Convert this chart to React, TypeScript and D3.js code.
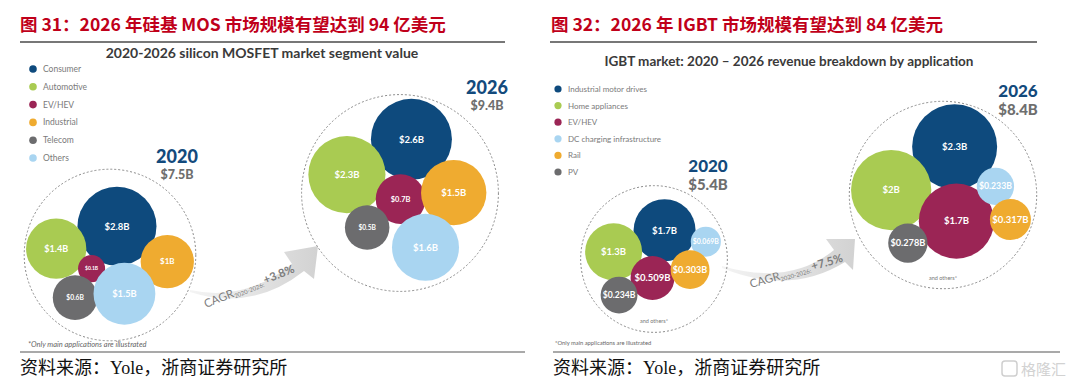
import { useEffect, useRef } from 'react'
import * as d3 from 'd3'

// ---- data ----
const years = ['2020', '2026']

const mosfetSegments = ['Consumer', 'Automotive', 'EV/HEV', 'Industrial', 'Telecom', 'Others']
const mosfet2020 = [2.8, 1.4, 0.1, 1, 0.6, 1.5]
const mosfet2026 = [2.6, 2.3, 0.7, 1.5, 0.5, 1.6]
const mosfetTotals = [7.5, 9.4]
const mosfetCagr = '+3.8%'

const igbtSegments = ['Industrial motor drives', 'Home appliances', 'EV/HEV', 'DC charging infrastructure', 'Rail', 'PV']
const igbt2020 = [1.7, 1.3, 0.509, 0.069, 0.303, 0.234]
const igbt2026 = [2.3, 2, 1.7, 0.233, 0.317, 0.278]
const igbtTotals = [5.4, 8.4]
const igbtCagr = '+7.5%'

// ---- styles ----
const BLUE = '#0e4a7d'
const GREEN = '#a9cb52'
const CRIMSON = '#9b2555'
const ORANGE = '#efab30'
const GREY = '#6c6c6e'
const SKY = '#a9d5f1'
const mosfetColors = [BLUE, GREEN, CRIMSON, ORANGE, GREY, SKY]
const igbtColors = [BLUE, GREEN, CRIMSON, SKY, ORANGE, GREY]

const fmt = (v: number) => `$${v}B`

// seed angle (deg) / distance (fraction of ring) for the force layout
const seedsMosfet2020 = [[-74, 0.5], [185, 0.6], [135, 0.2], [10, 0.63], [129, 0.68], [67, 0.58]]
const seedsMosfet2026 = [[-80, 0.57], [192, 0.53], [63, 0.16], [-3, 0.64], [135, 0.71], [71, 0.68]]
const seedsIgbt2020 = [[-82, 0.41], [192, 0.56], [80, 0.41], [-14, 0.62], [32, 0.65], [141, 0.7]]
const seedsIgbt2026 = [[-75, 0.52], [190, 0.54], [67, 0.29], [-10, 0.68], [22, 0.77], [124, 0.72]]

interface Panel {
  values: number[]
  colors: string[]
  seeds: number[][]
  cx: number
  cy: number
  ring: number
  range: [number, number]
  year: string
  total: number
  yearX: number
  yearY: number
  yearSize: number
  totalSize: number
  fitLabels: boolean
  others: boolean
  pad: number
  lift: number
}

interface Node {
  i: number
  v: number
  r: number
  x: number
  y: number
}

const panels: Panel[] = [
  { values: mosfet2020, colors: mosfetColors, seeds: seedsMosfet2020, cx: 110, cy: 255, ring: 81, range: [7.5, 39.5], year: years[0], total: mosfetTotals[0], yearX: 177, yearY: 163, yearSize: 18, totalSize: 12.5, fitLabels: false, others: false, pad: 1.5, lift: 0 },
  { values: mosfet2026, colors: mosfetColors, seeds: seedsMosfet2026, cx: 400, cy: 193, ring: 99, range: [8, 40.5], year: years[1], total: mosfetTotals[1], yearX: 487, yearY: 94, yearSize: 18, totalSize: 12.5, fitLabels: false, others: false, pad: 4, lift: 1 },
  { values: igbt2020, colors: igbtColors, seeds: seedsIgbt2020, cx: 654, cy: 259, ring: 71, range: [11, 31], year: years[0], total: igbtTotals[0], yearX: 708, yearY: 172, yearSize: 17, totalSize: 15, fitLabels: true, others: true, pad: 4, lift: 1 },
  { values: igbt2026, colors: igbtColors, seeds: seedsIgbt2026, cx: 943, cy: 195, ring: 96, range: [7.5, 42.5], year: years[1], total: igbtTotals[1], yearX: 1018, yearY: 97, yearSize: 17, totalSize: 15, fitLabels: true, others: true, pad: 1.5, lift: 0 },
]

function layoutPanel(p: Panel) {
  const rScale = d3.scaleSqrt().domain([0, d3.max(p.values) as number]).range(p.range)
  const nodes: Node[] = p.values.map((v, i) => {
    const [a, f] = p.seeds[i]
    const t = (a * Math.PI) / 180
    return { i, v, r: rScale(v), x: p.cx + Math.cos(t) * f * p.ring, y: p.cy + Math.sin(t) * f * p.ring }
  })
  // bubbles in the source overlap a little, so collide on a slightly smaller radius
  const sim = d3
    .forceSimulation(nodes as any)
    .force('x', d3.forceX(p.cx).strength(0.1))
    .force('y', d3.forceY(p.cy).strength(0.1))
    .force('collide', d3.forceCollide((d: any) => d.r * 0.93).strength(1).iterations(4))
    .stop()
  for (let k = 0; k < 300; k++) sim.tick()
  const enc = d3.packEnclose(nodes as any) as any
  const R = enc.r + p.pad
  const dx = p.cx - enc.x
  const dy = p.cy - enc.y - p.lift
  nodes.forEach((n) => {
    n.x += dx
    n.y += dy
  })
  return { nodes, R }
}

const LATO = "Lato, 'Open Sans', sans-serif"
const CJK = "'Noto Sans CJK SC', sans-serif"

export default function App() {
  const svgRef = useRef<SVGSVGElement>(null)

  useEffect(() => {
    if (!svgRef.current) return
    const svg = d3.select(svgRef.current)
    svg.selectAll('*').remove()

    const defs = svg.append('defs')
    const grad = defs.append('linearGradient').attr('id', 'swoosh').attr('x1', '0%').attr('x2', '100%')
    grad.append('stop').attr('offset', '0%').attr('stop-color', '#f4f4f4')
    grad.append('stop').attr('offset', '100%').attr('stop-color', '#d2d2d2')

    svg.append('rect').attr('width', 1080).attr('height', 388).attr('fill', '#fff')

    // titles
    const titles = [
      { x: 20, text: '图 31：2026 年硅基 MOS 市场规模有望达到 94 亿美元', x1: 20, x2: 505 },
      { x: 551, text: '图 32：2026 年 IGBT 市场规模有望达到 84 亿美元', x1: 550, x2: 1037 },
    ]
    titles.forEach((t) => {
      svg.append('text')
        .attr('x', t.x)
        .attr('y', 31)
        .attr('font-family', CJK)
        .attr('font-weight', 700)
        .attr('font-size', 17.5)
        .attr('fill', '#c0001a')
        .text(t.text)
      svg.append('line')
        .attr('x1', t.x1).attr('x2', t.x2)
        .attr('y1', 42).attr('y2', 42)
        .attr('stroke', '#4a4a4a').attr('stroke-width', 1.5)
    })

    // subtitles
    svg.append('text')
      .attr('x', 262).attr('y', 58)
      .attr('text-anchor', 'middle')
      .attr('font-family', LATO).attr('font-weight', 700).attr('font-size', 14)
      .attr('fill', '#3a3a3a')
      .text('2020-2026 silicon MOSFET market segment value')
    svg.append('text')
      .attr('x', 789).attr('y', 66)
      .attr('text-anchor', 'middle')
      .attr('font-family', LATO).attr('font-weight', 700).attr('font-size', 13.5)
      .attr('fill', '#3a3a3a')
      .text('IGBT market: 2020 \u2013 2026 revenue breakdown by application')

    // legends
    const legends = [
      { items: mosfetSegments, colors: mosfetColors, x: 33, y0: 69, y1: 158, fs: 8.5, dot: 3.8 },
      { items: igbtSegments, colors: igbtColors, x: 558, y0: 89, y1: 172, fs: 8, dot: 3.6 },
    ]
    legends.forEach((L) => {
      const y = d3.scalePoint<string>().domain(L.items).range([L.y0, L.y1])
      const g = svg.append('g')
      L.items.forEach((name, i) => {
        g.append('circle').attr('cx', L.x).attr('cy', y(name)!).attr('r', L.dot).attr('fill', L.colors[i])
        g.append('text')
          .attr('x', L.x + 10).attr('y', y(name)! + 3)
          .attr('font-family', LATO).attr('font-size', L.fs)
          .attr('fill', '#7a7a7a')
          .text(name)
      })
    })

    // CAGR swooshes (drawn under the bubbles)
    const swooshes = [
      {
        d: 'M190,290 Q245,302 292,264 L284,252 L318,246 L314,279 L304,271 Q252,312 190,292 Z',
        tx: 206, ty: 308, rot: -22, cagr: mosfetCagr,
      },
      {
        d: 'M722,266 Q790,286 834,250 L826,239 L855,239 L853,270 L845,262 Q790,296 722,268 Z',
        tx: 751, ty: 288, rot: -16, cagr: igbtCagr,
      },
    ]
    swooshes.forEach((s) => {
      svg.append('path').attr('d', s.d).attr('fill', 'url(#swoosh)')
      const t = svg.append('text')
        .attr('transform', `translate(${s.tx},${s.ty}) rotate(${s.rot})`)
        .attr('font-family', LATO)
        .attr('fill', '#7d7d7d')
      t.append('tspan').attr('font-size', 11.5).text('CAGR')
      t.append('tspan').attr('font-size', 6).attr('dy', 2).text('2020-2026')
      t.append('tspan').attr('font-size', 6).text(': ')
      t.append('tspan').attr('font-size', 11.5).attr('font-weight', 700).attr('dy', -2).text(s.cagr)
    })

    // bubble panels
    panels.forEach((p) => {
      const { nodes, R } = layoutPanel(p)
      const g = svg.append('g')
      g.append('circle')
        .attr('cx', p.cx).attr('cy', p.cy).attr('r', R)
        .attr('fill', 'none')
        .attr('stroke', '#8a8a8a')
        .attr('stroke-width', 1)
        .attr('stroke-dasharray', '2,2')

      g.selectAll('circle.bubble')
        .data(nodes)
        .join('circle')
        .attr('class', 'bubble')
        .attr('cx', (d) => d.x)
        .attr('cy', (d) => d.y)
        .attr('r', (d) => d.r)
        .attr('fill', (d) => p.colors[d.i])

      g.selectAll('text.val')
        .data(nodes)
        .join('text')
        .attr('class', 'val')
        .attr('x', (d) => d.x)
        .attr('y', (d) => d.y)
        .attr('dy', '0.35em')
        .attr('text-anchor', 'middle')
        .attr('font-family', LATO)
        .attr('font-weight', 700)
        .attr('fill', '#fff')
        .attr('font-size', (d) => {
          const label = fmt(d.v)
          if (p.fitLabels) return Math.min(9.5, (2 * d.r - 2) / (label.length * 0.58))
          return Math.max(5, Math.min(9.5, d.r * 0.3))
        })
        .text((d) => fmt(d.v))

      g.append('text')
        .attr('x', p.yearX).attr('y', p.yearY)
        .attr('text-anchor', 'middle')
        .attr('font-family', LATO).attr('font-weight', 900).attr('font-size', p.yearSize)
        .attr('fill', '#134a7c')
        .text(p.year)
      g.append('text')
        .attr('x', p.yearX).attr('y', p.yearY + p.totalSize + 3)
        .attr('text-anchor', 'middle')
        .attr('font-family', LATO).attr('font-weight', 900).attr('font-size', p.totalSize)
        .attr('fill', '#6e6e6e')
        .text(fmt(p.total))

      if (p.others) {
        g.append('text')
          .attr('x', p.cx).attr('y', p.cy + R - 9)
          .attr('text-anchor', 'middle')
          .attr('font-family', LATO).attr('font-size', 5.5)
          .attr('fill', '#777')
          .text('and others*')
      }
    })

    // footnotes
    svg.append('text')
      .attr('x', 28).attr('y', 347)
      .attr('font-family', LATO).attr('font-style', 'italic').attr('font-size', 7.5)
      .attr('fill', '#666')
      .text('*Only main applications are illustrated')
    svg.append('text')
      .attr('x', 555).attr('y', 345)
      .attr('font-family', LATO).attr('font-size', 5.8)
      .attr('fill', '#666')
      .text('*Only main applications are illustrated')

    // bottom rules and sources
    ;[
      { x1: 20, x2: 525, tx: 20 },
      { x1: 553, x2: 1060, tx: 553 },
    ].forEach((b) => {
      svg.append('line')
        .attr('x1', b.x1).attr('x2', b.x2)
        .attr('y1', 352).attr('y2', 352)
        .attr('stroke', '#555').attr('stroke-width', 1.2)
      svg.append('text')
        .attr('x', b.tx).attr('y', 374)
        .attr('font-family', "'Liberation Serif', 'Noto Sans CJK SC', serif")
        .attr('font-size', 18)
        .attr('fill', '#111')
        .text('资料来源：Yole，浙商证券研究所')
    })

    // watermark logo
    svg.append('rect')
      .attr('x', 1002).attr('y', 361).attr('width', 15).attr('height', 15).attr('rx', 3)
      .attr('fill', 'none').attr('stroke', '#cfcfcf').attr('stroke-width', 1.5)
    svg.append('text')
      .attr('x', 1021).attr('y', 375)
      .attr('font-family', CJK).attr('font-size', 15)
      .attr('fill', '#d2d2d2')
      .text('格隆汇')
  }, [])

  return (
    <svg
      ref={svgRef}
      width={1080}
      height={388}
      style={{ position: 'absolute', left: 0, top: 0, display: 'block' }}
    />
  )
}
